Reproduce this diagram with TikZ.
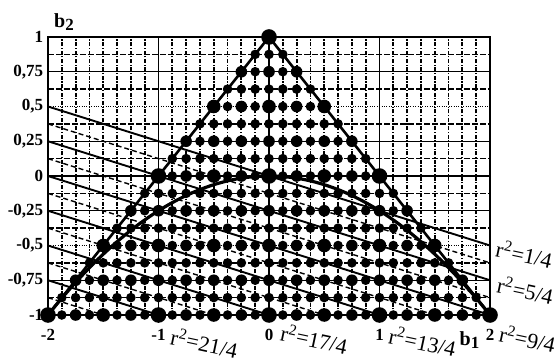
\documentclass[tikz,border=0pt]{standalone}
\usepackage{fontspec}
\setmainfont{Liberation Serif}
\usepackage{xcolor}
\definecolor{plotink}{RGB}{0,0,0}
\usepackage{tikz}
\usetikzlibrary{arrows.meta, positioning, calc}

\newcommand{\subidx}[1]{\raisebox{-0.3ex}{\fontsize{8.5}{9}\selectfont #1}}

\tikzset{
  gridsolid/.style={plotink, line width=0.65pt},
  griddash/.style={plotink, line width=0.7pt, dash pattern=on 3pt off 1pt},
  griddot/.style={plotink, line width=0.45pt, dash pattern=on 0.5pt off 0.7pt},
  gridvert/.style={plotink, line width=0.9pt, dash pattern=on 2pt off 0.8pt on 0.6pt off 0.8pt},
  axisline/.style={plotink, line width=1.3pt},
  levelline/.style={plotink, line width=0.95pt},
  leveldash/.style={plotink, line width=0.7pt, dash pattern=on 2.5pt off 1.5pt},
  ticklabel/.style={font=\fontsize{8.5}{9}\selectfont\bfseries, inner sep=0pt},
  levellabel/.style={font=\fontsize{11}{12}\selectfont, inner sep=0pt, rotate=-12},
}

\begin{document}
\begin{tikzpicture}[x=55.25pt, y=69.5pt]
\useasboundingbox (-2.4344,-1.3381) rectangle (2.5882,1.2662);

% --- Grid: vertical lines every 1/8 ---
\foreach \k in {-15,...,15} {
  \pgfmathtruncatemacro{\m}{mod(abs(\k),8)}
  \ifnum\m>0 \draw[gridvert] (\k/8,-1) -- (\k/8,1); \fi
}
\draw[plotink, line width=0.95pt] (-1,-1) -- (-1,1);
\draw[plotink, line width=0.95pt] (1,-1) -- (1,1);
\draw[plotink, line width=1pt] (0,-1) -- (0,1);

% --- Grid: horizontal lines every 1/8 ---
\foreach \k in {-7,...,7} {
  \pgfmathtruncatemacro{\m}{abs(\k)}
  \ifnum\m=4 \draw[griddot] (-2,\k/8) -- (2,\k/8);
  \else\ifnum\m=0 \relax
  \else\ifodd\m \draw[griddash] (-2,\k/8) -- (2,\k/8);
  \else \draw[gridsolid] (-2,\k/8) -- (2,\k/8);
  \fi\fi\fi
}

% --- Frame and axis ---
\draw[axisline] (-2,-1) rectangle (2,1);
\draw[axisline] (-2,0) -- (2,0);

% --- Lines of constant r^2 ---
\begin{scope}
  \clip (-2,-1) rectangle (2,1);
  \foreach \n in {0,...,5} {
    \draw[levelline] (-2,0.5-\n/4) -- (2,-0.5-\n/4);
    \draw[leveldash] (-2,0.375-\n/4) -- (2,-0.625-\n/4);
  }
\end{scope}

% --- Triangle and parabola ---
\draw[plotink, line width=1.3pt] (-2,-1) -- (0,1) -- (2,-1);
\draw[plotink, line width=1.6pt] plot[domain=-2:2, samples=80] (\x,{-\x*\x/4});

% --- Lattice points, size by denominator ---
\foreach \j in {-8,...,8} {
  \pgfmathtruncatemacro{\imax}{8-\j}
  \pgfmathtruncatemacro{\nmax}{2*\imax}
  \foreach \k in {0,...,\nmax} {
    \pgfmathtruncatemacro{\i}{\k-\imax}
    \pgfmathtruncatemacro{\lev}{(mod(\i,8)==0 && mod(\j,8)==0) ? 4 : ((mod(\i,4)==0 && mod(\j,4)==0) ? 3 : ((mod(\i,2)==0 && mod(\j,2)==0) ? 2 : 1))}
    \pgfmathsetmacro{\rad}{1.9+0.5*\lev}
    \fill[plotink] (\i/8,\j/8) circle[radius=\rad pt];
  }
}

% --- Tick labels ---
\foreach \v/\t [count=\n] in {1/1, 0.75/{0,75}, 0.5/{0,5}, 0.25/{0,25}, 0/0, -0.25/{-0,25}, -0.5/{-0,5}, -0.75/{-0,75}, -1/-1}
  \node[ticklabel, anchor=east, xshift=-2.2pt] (ytick-\n) at (-2,\v) {\t};
\foreach \v/\t [count=\n] in {-2/-2, -1/-1, 0/0, 1/1, 2/2}
  \node[ticklabel] (xtick-\n) at (\v,-1.144) {\t};

% --- Axis names ---
\node[font=\fontsize{10}{11}\selectfont\bfseries, inner sep=0pt] (b1-label) at (1.814,-1.18) {b\subidx{1}};
\node[font=\fontsize{10}{11}\selectfont\bfseries, inner sep=0pt] (b2-label) at (-1.855,1.108) {b\subidx{2}};

% --- r^2 labels ---
\node[levellabel] (r2-a) at (2.31,-0.56) {r\textsuperscript{2}=1/4};
\node[levellabel] (r2-b) at (2.32,-0.82) {r\textsuperscript{2}=5/4};
\node[levellabel] (r2-c) at (2.34,-1.17) {r\textsuperscript{2}=9/4};
\node[levellabel] (r2-d) at (1.39,-1.19) {r\textsuperscript{2}=13/4};
\node[levellabel] (r2-e) at (0.41,-1.17) {r\textsuperscript{2}=17/4};
\node[levellabel] (r2-f) at (-0.585,-1.20) {r\textsuperscript{2}=21/4};

\end{tikzpicture}
\end{document}
